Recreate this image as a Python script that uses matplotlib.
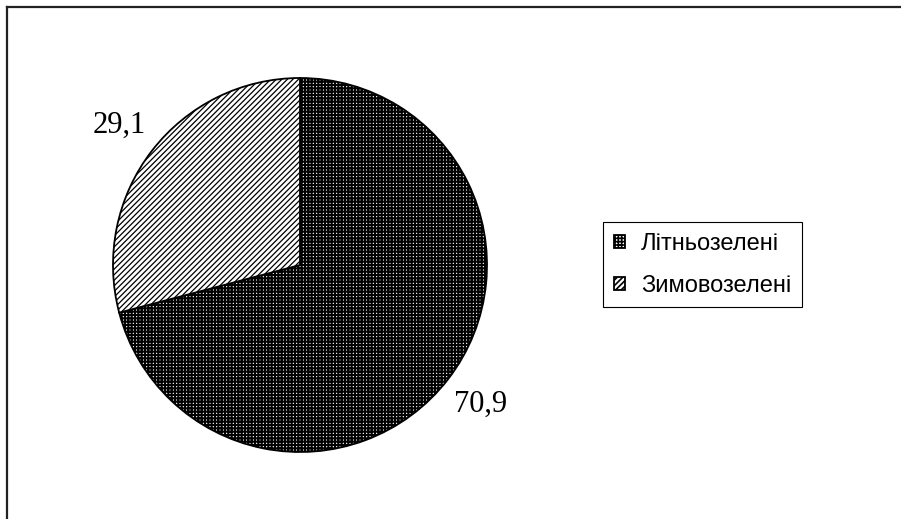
import matplotlib
matplotlib.use('Agg')
import matplotlib.pyplot as plt
from matplotlib.lines import Line2D

# Частки груп за ритмом вегетації, %
labels = ['Літньозелені', 'Зимовозелені']
values = [70.9, 29.1]
hatches = ['+++++', '//////']
hatch_widths = [1.5, 0.9]

plt.rcParams['hatch.linewidth'] = 1.2

W, H = 901, 519
fig = plt.figure(figsize=(W / 100, H / 100), dpi=100)

# рамка навколо діаграми
fig.add_artist(Line2D([7 / W, 1], [1 - 7 / H, 1 - 7 / H], color='#222222', lw=1.6))
fig.add_artist(Line2D([7 / W, 7 / W], [0, 1 - 7 / H], color='#222222', lw=1.6))

# центр кола (300, 265) px, радіус 187 px
R = 187
lim = 1.3
half = R * lim
ax = fig.add_axes([(300 - half) / W, (H - 265 - half) / H, 2 * half / W, 2 * half / H])

wedges, texts, autotexts = ax.pie(
    values, startangle=90, counterclock=False,
    colors=['white', 'white'],
    wedgeprops=dict(edgecolor='black', linewidth=1.3),
    autopct=lambda p: f'{p:.1f}'.replace('.', ','),
    pctdistance=1.22,
    textprops=dict(family='Liberation Serif', fontsize=22),
)
for w, h, hw in zip(wedges, hatches, hatch_widths):
    w.set_hatch(h)
    if hasattr(w, 'set_hatch_linewidth'):
        w.set_hatch_linewidth(hw)

ax.set_xlim(-lim, lim)
ax.set_ylim(-lim, lim)
ax.set_aspect('equal')
ax.axis('off')

leg = fig.legend(
    wedges, labels, loc='upper left',
    bbox_to_anchor=(603 / W, 1 - 222 / H),
    prop=dict(family='Liberation Sans', size=17),
    frameon=True, fancybox=False, edgecolor='black', framealpha=1,
    handlelength=0.5, handleheight=0.5, handletextpad=0.65,
    borderpad=0.45, labelspacing=0.85, borderaxespad=0,
)
leg.get_frame().set_linewidth(0.8)

fig.savefig('out.png', dpi=100, facecolor='white')
